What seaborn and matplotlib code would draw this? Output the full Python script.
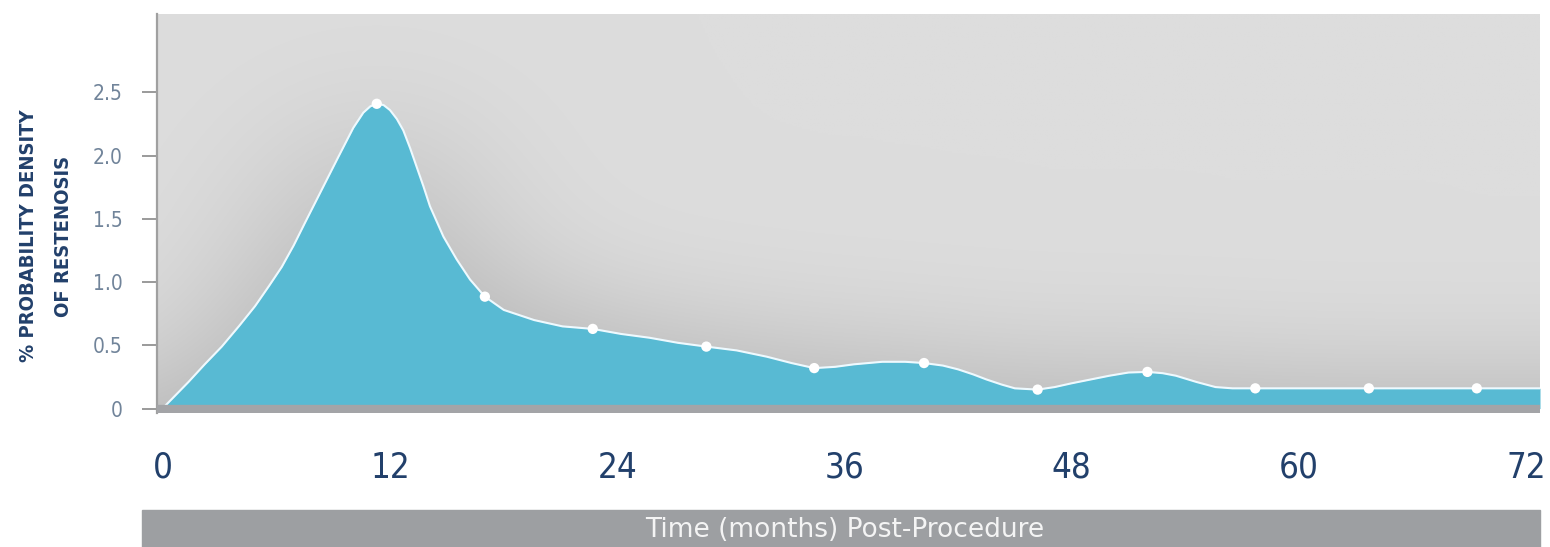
import numpy as np
import matplotlib
matplotlib.use("Agg")
import matplotlib.pyplot as plt
from matplotlib.patches import Rectangle
import seaborn as sns
import pandas as pd

# ---- data ----
curve_months = [0, 0.1, 1.34, 2.2, 3.1, 4.0, 4.86, 5.6, 6.27, 6.9, 7.5, 8.38, 9.26,
                10.05, 10.58, 10.95, 11.29, 11.65, 11.99, 12.35, 12.69, 13.05, 13.40, 13.75,
                14.1, 14.81, 15.51, 16.22, 17.0, 18.0, 19.6, 21.1, 22.7, 24.2, 25.7, 27.2,
                28.7, 30.3, 31.9, 33.2, 34.4, 35.5, 36.5, 38.0, 39.2, 40.2, 41.2, 42.0,
                42.8, 43.5, 44.3, 45.0, 46.2, 47.1, 48.0, 49.0, 50.0, 51.0, 52.0, 52.8,
                53.5, 54.6, 55.6, 56.5, 57.7, 63.7, 69.4, 72.74]
curve_values = [0.0, 0.02, 0.21, 0.35, 0.49, 0.65, 0.81, 0.97, 1.12, 1.29, 1.47, 1.73, 1.99,
                2.22, 2.34, 2.39, 2.41, 2.40, 2.36, 2.29, 2.20, 2.06, 1.91, 1.76,
                1.60, 1.36, 1.18, 1.02, 0.885, 0.78, 0.70, 0.65, 0.63, 0.59, 0.56, 0.52,
                0.49, 0.46, 0.41, 0.36, 0.32, 0.33, 0.35, 0.37, 0.37, 0.36, 0.34, 0.31,
                0.27, 0.23, 0.19, 0.16, 0.15, 0.17, 0.20, 0.23, 0.26, 0.285, 0.29, 0.28,
                0.26, 0.21, 0.17, 0.16, 0.16, 0.16, 0.16, 0.16]
marker_months = [11.29, 17.0, 22.7, 28.7, 34.4, 40.2, 46.2, 52.0, 57.7, 63.7, 69.4]
marker_values = [2.41, 0.885, 0.63, 0.49, 0.32, 0.36, 0.15, 0.29, 0.16, 0.16, 0.16]
x_ticks = [0, 12, 24, 36, 48, 60, 72]
y_ticks = [0, 0.5, 1.0, 1.5, 2.0, 2.5]
y_tick_labels = ["0", "0.5", "1.0", "1.5", "2.0", "2.5"]
x_title = "Time (months) Post-Procedure"
y_title = "% PROBABILITY DENSITY\nOF RESTENOSIS"

sns.set_theme(style="white")
plt.rcParams["font.family"] = ["DejaVu Sans"]

NAVY = "#22406b"
TEAL = "#58bad3"
GRAY_BAND = "#a3a4a7"

fig = plt.figure(figsize=(15.5, 5.47), dpi=100)
ax = fig.add_axes([157 / 1550, 1 - 413 / 547, (1540 - 157) / 1550, (413 - 14) / 547])

xmin, xmax = -0.32, 72.74
ymin, ymax = -0.035, 3.12
ax.set_xlim(xmin, xmax)
ax.set_ylim(ymin, ymax)

# background with soft shadow around the filled shape
nx, ny = 700, 220
gx = np.linspace(xmin, xmax, nx)
gy = np.linspace(ymin, ymax, ny)
cy = np.interp(gx, curve_months, curve_values)
mask = (gy[:, None] <= cy[None, :]).astype(float)
def blur(a, sigma, axis):
    r = int(3 * sigma)
    k = np.exp(-0.5 * (np.arange(-r, r + 1) / sigma) ** 2)
    k /= k.sum()
    pad = [(0, 0), (0, 0)]
    pad[axis] = (r, r)
    ap = np.pad(a, pad, mode="edge")
    return np.apply_along_axis(lambda v: np.convolve(v, k, mode="valid"), axis, ap)
sh = blur(blur(mask, 45, 1), 35, 0)
base = 221 / 255
img = base - 0.17 * sh
img = np.clip(img, 0, 1)
rgb = np.dstack([img, img, img])
ax.imshow(rgb, extent=[xmin, xmax, ymin, ymax], origin="lower", aspect="auto",
          zorder=0, interpolation="bilinear")

df = pd.DataFrame({"month": curve_months, "value": curve_values})
mk = pd.DataFrame({"month": marker_months, "value": marker_values})

ax.fill_between(df["month"], 0, df["value"], color=TEAL, lw=0, zorder=2)
sns.lineplot(data=df, x="month", y="value", ax=ax, color="#eefaff", lw=1.5,
             zorder=3, sort=False)
sns.scatterplot(data=mk, x="month", y="value", ax=ax, color="white", s=55,
                edgecolor="none", zorder=4)
ax.axhline(0, color=GRAY_BAND, lw=6, zorder=5, solid_capstyle="butt")

# spines
for s in ["top", "right", "bottom"]:
    ax.spines[s].set_visible(False)
ax.spines["left"].set_color("#a0a0a0")
ax.spines["left"].set_linewidth(1.6)

ax.set_yticks(y_ticks)
ax.set_yticklabels(y_tick_labels)
ax.tick_params(axis="y", left=True, length=11, width=1.4, color="#9a9a9a",
               pad=14, labelsize=15, labelcolor="#71849a")
ax.set_xticks(x_ticks)
ax.set_xticklabels([str(t) for t in x_ticks])
ax.tick_params(axis="x", bottom=False, length=0, pad=27, labelsize=25, labelcolor=NAVY)
for lab in ax.get_xticklabels() + ax.get_yticklabels():
    lab.set_fontstretch("condensed")
ax.set_xlabel("")
ax.set_ylabel("")

fig.text(46 / 1550, 1 - 236 / 547, y_title, rotation=90, ha="center", va="center",
         color=NAVY, fontsize=14.5, fontweight="bold", linespacing=2.05,
         fontstretch="condensed", multialignment="center")

fig.patches.append(Rectangle((142 / 1550, 0), (1540 - 142) / 1550, 37 / 547,
                             transform=fig.transFigure, color="#9d9fa2", zorder=0))
fig.text(845 / 1550, 1 - 530 / 547, x_title, ha="center", va="center",
         color="#f4f4f4", fontsize=19)

fig.savefig("out.png", dpi=100, facecolor="white")
